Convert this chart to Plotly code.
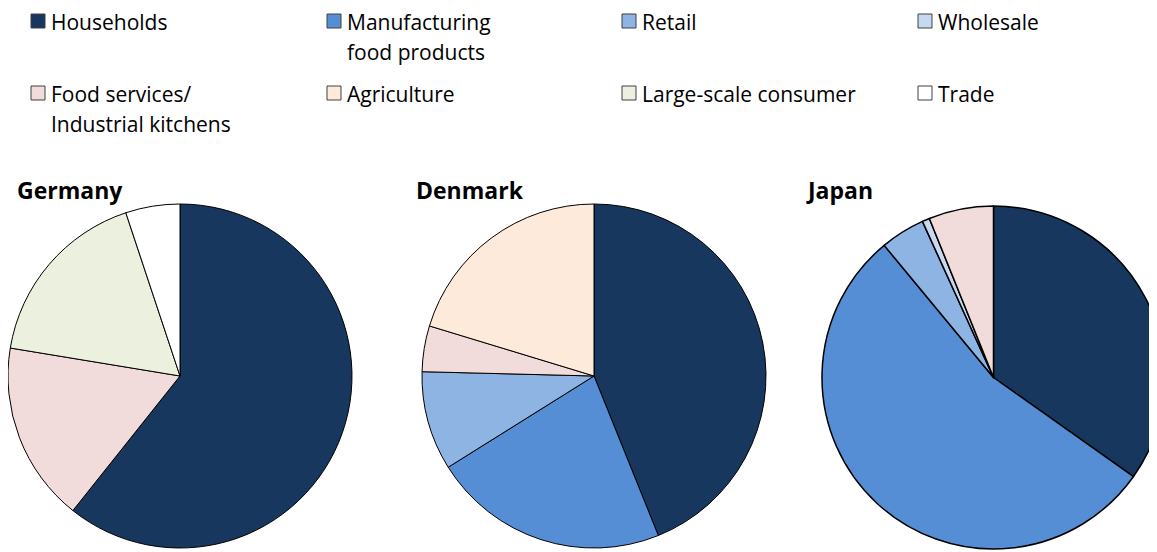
import plotly.graph_objects as go

W, H = 1157, 552
OFF = 8  # page body margin offset in the browser

categories = ["Households", "Manufacturing<br>food products", "Retail", "Wholesale",
              "Food services/<br>Industrial kitchens", "Agriculture",
              "Large-scale consumer", "Trade"]
colors = ["#17375E", "#558ED5", "#8EB4E3", "#C6D9F1",
          "#F2DCDB", "#FDEADA", "#EBF1DE", "#FFFFFF"]

countries = ["Germany", "Denmark", "Japan"]
germany = [60.7, 0, 0, 0, 16.9, 0, 17.3, 5.1]
denmark = [43.9, 22.2, 9.3, 0, 4.3, 20.3, 0, 0]
japan = [34.8, 54.2, 4.2, 0.7, 6.1, 0, 0, 0]
series = [germany, denmark, japan]

FONT = "Open Sans"


def px(x):
    return min(max((x - OFF) / W, 0), 1)


def py(y):
    return min(max(1 - (y - OFF) / H, 0), 1)


# pie domains in window pixels (left, right, top, bottom)
domains = [(8, 352, 204, 548), (422, 766, 204, 548), (822, 1165, 206, 549)]
line_widths = [1, 1, 1.5]

fig = go.Figure()
for name, vals, (l, r, t, b), lw in zip(countries, series, domains, line_widths):
    labs = [c for c, v in zip(categories, vals) if v > 0]
    cols = [col for col, v in zip(colors, vals) if v > 0]
    vv = [v for v in vals if v > 0]
    fig.add_trace(go.Pie(
        labels=labs, values=vv, name=name,
        marker=dict(colors=cols, line=dict(color="#000000", width=lw)),
        sort=False, direction="clockwise", rotation=0,
        textinfo="none", showlegend=False, hoverinfo="label+percent",
        domain=dict(x=[px(l), px(r)], y=[py(b), py(t)]),
    ))

shapes = []
annotations = []
sq_x = [31, 327, 622, 918]
row_y = [21, 93]
sz = 14
for i, (cat, col) in enumerate(zip(categories, colors)):
    row, colidx = divmod(i, 4)
    x0 = sq_x[colidx]
    yc = row_y[row]
    shapes.append(dict(type="rect", xref="paper", yref="paper",
                       x0=px(x0), x1=px(x0 + sz), y0=py(yc + sz / 2), y1=py(yc - sz / 2),
                       fillcolor=col, line=dict(color="#404040", width=1)))
    for k, line in enumerate(cat.split("<br>")):
        annotations.append(dict(text=line, xref="paper", yref="paper",
                                x=px(x0 + 19), y=py(yc + 1 + 30 * k),
                                xanchor="left", yanchor="middle", showarrow=False,
                                borderpad=0,
                                font=dict(family=FONT, size=21, color="#000000")))

title_x = [15, 414, 804]
for name, tx in zip(countries, title_x):
    annotations.append(dict(text="<b>%s</b>" % name, xref="paper", yref="paper",
                            x=px(tx), y=py(190), xanchor="left", yanchor="middle",
                            showarrow=False,
                            font=dict(family=FONT, size=23, color="#000000")))

fig.update_layout(
    width=W, height=H,
    margin=dict(l=0, r=0, t=0, b=0),
    paper_bgcolor="#FFFFFF", plot_bgcolor="#FFFFFF",
    shapes=shapes, annotations=annotations,
    font=dict(family=FONT),
)

fig.write_html("out.html")
